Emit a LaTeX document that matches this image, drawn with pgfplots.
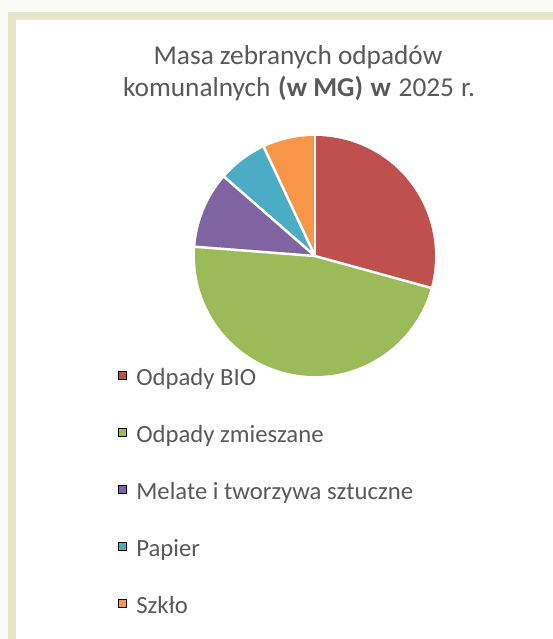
\documentclass[border=0pt]{standalone}
\usepackage{pgfplots}
\pgfplotsset{compat=1.18}
\usepackage{fontspec}
\setmainfont{Carlito}
\definecolor{cbio}{HTML}{C0504D}
\definecolor{cmix}{HTML}{9BBB59}
\definecolor{cmet}{HTML}{8064A2}
\definecolor{cpap}{HTML}{4BACC6}
\definecolor{cszk}{HTML}{F79646}
\definecolor{txt}{HTML}{595959}
\definecolor{framec}{HTML}{E6E5C9}
\definecolor{outerc}{HTML}{FAFAF8}
% values (share of total)
\def\vA{29.3}% Odpady BIO
\def\vB{47.0}% Odpady zmieszane
\def\vC{10.2}% Melate i tworzywa sztuczne
\def\vD{6.6}%  Papier
\def\vE{7.0}%  Szklo
\pgfmathsetmacro\tot{\vA+\vB+\vC+\vD+\vE}
\pgfmathsetmacro\aA{90-(\vA/\tot)*360}
\pgfmathsetmacro\aB{\aA-(\vB/\tot)*360}
\pgfmathsetmacro\aC{\aB-(\vC/\tot)*360}
\pgfmathsetmacro\aD{\aC-(\vD/\tot)*360}
\pgfmathsetmacro\aE{\aD-(\vE/\tot)*360}
\begin{document}
\begin{tikzpicture}[x=1pt,y=1pt]
\useasboundingbox (0,0) rectangle (553,-639);
\fill[outerc] (0,0) rectangle (553,-639);
\fill[framec] (8,-12) rectangle (553,-639);
\fill[white] (16,-20) rectangle (553,-639);
\node[anchor=base, text=txt, font=\fontsize{27.3}{32}\selectfont, inner sep=0pt] at (298,-64.5) {Masa zebranych odpadów};
\node[anchor=base, text=txt, font=\fontsize{27.3}{32}\selectfont, inner sep=0pt] at (299,-96.5) {komunalnych\hspace{1.5pt} \textbf{(w MG)\hspace{1.5pt} w}\hspace{1.5pt} 2025\hspace{1pt} r.};
\begin{axis}[
  at={(315pt,-256pt)}, anchor=origin,
  width=240pt, height=240pt, scale only axis,
  xmin=-1, xmax=1, ymin=-1, ymax=1,
  hide axis, clip=false,
  legend image code/.code={\fill[#1] (0pt,0.8pt) rectangle (8pt,8.8pt);},
  legend cell align=left,
  legend style={at={(-0.321,0.0335)}, anchor=north west, draw=none, fill=none,
    inner sep=0pt, outer sep=0pt, row sep=33pt, text=txt,
    font=\fontsize{24.7}{30}\selectfont,
    nodes={inner sep=0pt, text height=18pt, text depth=6pt},
    /tikz/every odd column/.append style={column sep=10pt}},
]
\fill[cbio] (axis cs:0,0) -- ++(90:120pt) arc[start angle=90, end angle=\aA, radius=120pt] -- cycle;
\fill[cmix] (axis cs:0,0) -- ++(\aA:120pt) arc[start angle=\aA, end angle=\aB, radius=120pt] -- cycle;
\fill[cmet] (axis cs:0,0) -- ++(\aB:120pt) arc[start angle=\aB, end angle=\aC, radius=120pt] -- cycle;
\fill[cpap] (axis cs:0,0) -- ++(\aC:120pt) arc[start angle=\aC, end angle=\aD, radius=120pt] -- cycle;
\fill[cszk] (axis cs:0,0) -- ++(\aD:120pt) arc[start angle=\aD, end angle=\aE, radius=120pt] -- cycle;
\draw[white, line width=2.5pt] (axis cs:0,0) -- ++(90:121pt);
\draw[white, line width=2.5pt] (axis cs:0,0) -- ++(\aA:121pt);
\draw[white, line width=2.5pt] (axis cs:0,0) -- ++(\aB:121pt);
\draw[white, line width=2.5pt] (axis cs:0,0) -- ++(\aC:121pt);
\draw[white, line width=2.5pt] (axis cs:0,0) -- ++(\aD:121pt);
\addlegendimage{fill=cbio}\addlegendentry{Odpady BIO}
\addlegendimage{fill=cmix}\addlegendentry{Odpady zmieszane}
\addlegendimage{fill=cmet}\addlegendentry{Melate i tworzywa sztuczne}
\addlegendimage{fill=cpap}\addlegendentry{Papier}
\addlegendimage{fill=cszk}\addlegendentry{Szkło}
\end{axis}
\end{tikzpicture}
\end{document}
